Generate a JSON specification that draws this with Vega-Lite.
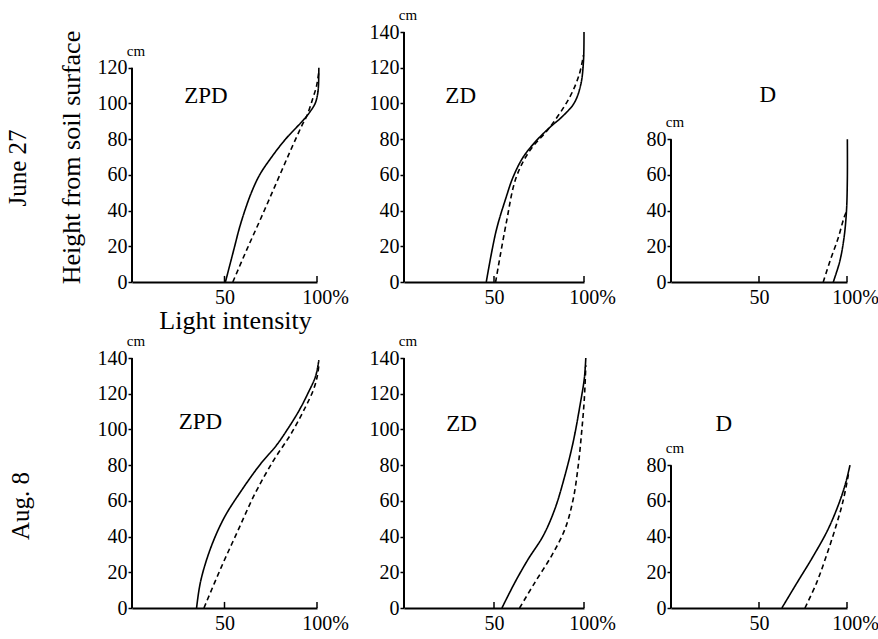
{
  "$schema": "https://vega.github.io/schema/vega-lite/v6.json",
  "background": "white",
  "padding": {"left": 5, "top": 8, "right": 5, "bottom": 5},
  "config": {
    "font": "Liberation Serif",
    "view": {"stroke": null},
    "text": {"font": "Liberation Serif", "color": "black"},
    "axis": {"grid": false, "labelFontSize": 20, "labelColor": "black", "tickColor": "black", "domainColor": "black", "labelFont": "Liberation Serif", "titleFont": "Liberation Serif", "titleFontSize": 26, "titleFontWeight": "normal", "titleColor": "black", "tickWidth": 1.5, "domainWidth": 2, "labelOverlap": false},
    "axisX": {"ticks": false, "labelPadding": 5, "labelFlush": false},
    "axisY": {"domain": false, "tickSize": 4, "labelPadding": 1}
  },
  "datasets": {
    "xticks": [{"tick": 50}, {"tick": 100}],
    "panels": [
      {"panel": "June ZPD", "label": "ZPD", "top": 120},
      {"panel": "June ZD", "label": "ZD", "top": 140},
      {"panel": "June D", "label": "D", "top": 80},
      {"panel": "Aug ZPD", "label": "ZPD", "top": 140},
      {"panel": "Aug ZD", "label": "ZD", "top": 140},
      {"panel": "Aug D", "label": "D", "top": 80}
    ],
    "curves": [
      {"panel": "June ZPD", "series": "solid", "light": 50.5, "height": 0},
      {"panel": "June ZPD", "series": "solid", "light": 53, "height": 10},
      {"panel": "June ZPD", "series": "solid", "light": 55.5, "height": 20},
      {"panel": "June ZPD", "series": "solid", "light": 58, "height": 30},
      {"panel": "June ZPD", "series": "solid", "light": 61, "height": 40},
      {"panel": "June ZPD", "series": "solid", "light": 64.5, "height": 50},
      {"panel": "June ZPD", "series": "solid", "light": 69, "height": 60},
      {"panel": "June ZPD", "series": "solid", "light": 75.5, "height": 70},
      {"panel": "June ZPD", "series": "solid", "light": 83, "height": 80},
      {"panel": "June ZPD", "series": "solid", "light": 92, "height": 90},
      {"panel": "June ZPD", "series": "solid", "light": 96, "height": 95},
      {"panel": "June ZPD", "series": "solid", "light": 99, "height": 100},
      {"panel": "June ZPD", "series": "solid", "light": 100.3, "height": 105},
      {"panel": "June ZPD", "series": "solid", "light": 100.8, "height": 110},
      {"panel": "June ZPD", "series": "solid", "light": 101, "height": 120},
      {"panel": "June ZPD", "series": "dashed", "light": 54.5, "height": 0},
      {"panel": "June ZPD", "series": "dashed", "light": 62, "height": 18},
      {"panel": "June ZPD", "series": "dashed", "light": 69.8, "height": 36},
      {"panel": "June ZPD", "series": "dashed", "light": 77.4, "height": 54},
      {"panel": "June ZPD", "series": "dashed", "light": 85, "height": 72},
      {"panel": "June ZPD", "series": "dashed", "light": 92, "height": 88},
      {"panel": "June ZPD", "series": "dashed", "light": 94.5, "height": 93},
      {"panel": "June ZPD", "series": "dashed", "light": 97.5, "height": 102},
      {"panel": "June ZPD", "series": "dashed", "light": 99.8, "height": 110},
      {"panel": "June ZPD", "series": "dashed", "light": 101, "height": 118},
      {"panel": "June ZD", "series": "solid", "light": 45.7, "height": 0},
      {"panel": "June ZD", "series": "solid", "light": 51.2, "height": 28.7},
      {"panel": "June ZD", "series": "solid", "light": 56.7, "height": 47.3},
      {"panel": "June ZD", "series": "solid", "light": 60.5, "height": 58.5},
      {"panel": "June ZD", "series": "solid", "light": 66, "height": 69.6},
      {"panel": "June ZD", "series": "solid", "light": 73.3, "height": 78.9},
      {"panel": "June ZD", "series": "solid", "light": 80.8, "height": 86.4},
      {"panel": "June ZD", "series": "solid", "light": 88.1, "height": 92.8},
      {"panel": "June ZD", "series": "solid", "light": 94.6, "height": 100.3},
      {"panel": "June ZD", "series": "solid", "light": 98.2, "height": 110.5},
      {"panel": "June ZD", "series": "solid", "light": 99.7, "height": 123.5},
      {"panel": "June ZD", "series": "solid", "light": 100, "height": 140},
      {"panel": "June ZD", "series": "dashed", "light": 50.9, "height": 0},
      {"panel": "June ZD", "series": "dashed", "light": 56.7, "height": 32.5},
      {"panel": "June ZD", "series": "dashed", "light": 62.3, "height": 58.5},
      {"panel": "June ZD", "series": "dashed", "light": 69.7, "height": 73.3},
      {"panel": "June ZD", "series": "dashed", "light": 80.8, "height": 86.4},
      {"panel": "June ZD", "series": "dashed", "light": 91.8, "height": 103},
      {"panel": "June ZD", "series": "dashed", "light": 97.3, "height": 116},
      {"panel": "June ZD", "series": "dashed", "light": 99.7, "height": 127},
      {"panel": "June D", "series": "solid", "light": 92.2, "height": 0},
      {"panel": "June D", "series": "solid", "light": 95.9, "height": 11.6},
      {"panel": "June D", "series": "solid", "light": 98.3, "height": 24.7},
      {"panel": "June D", "series": "solid", "light": 99.7, "height": 39.7},
      {"panel": "June D", "series": "solid", "light": 100.2, "height": 58},
      {"panel": "June D", "series": "solid", "light": 100.2, "height": 80},
      {"panel": "June D", "series": "dashed", "light": 86.5, "height": 0},
      {"panel": "June D", "series": "dashed", "light": 90.3, "height": 11.6},
      {"panel": "June D", "series": "dashed", "light": 95, "height": 24.7},
      {"panel": "June D", "series": "dashed", "light": 98.3, "height": 36},
      {"panel": "June D", "series": "dashed", "light": 99.5, "height": 39},
      {"panel": "Aug ZPD", "series": "solid", "light": 34.9, "height": 0},
      {"panel": "Aug ZPD", "series": "solid", "light": 37.1, "height": 15},
      {"panel": "Aug ZPD", "series": "solid", "light": 42.6, "height": 33.8},
      {"panel": "Aug ZPD", "series": "solid", "light": 49.9, "height": 50.7},
      {"panel": "Aug ZPD", "series": "solid", "light": 59.1, "height": 65.7},
      {"panel": "Aug ZPD", "series": "solid", "light": 69.5, "height": 80.7},
      {"panel": "Aug ZPD", "series": "solid", "light": 78, "height": 91},
      {"panel": "Aug ZPD", "series": "solid", "light": 84, "height": 100},
      {"panel": "Aug ZPD", "series": "solid", "light": 90, "height": 110},
      {"panel": "Aug ZPD", "series": "solid", "light": 95, "height": 120},
      {"panel": "Aug ZPD", "series": "solid", "light": 99.3, "height": 130},
      {"panel": "Aug ZPD", "series": "solid", "light": 101, "height": 138.8},
      {"panel": "Aug ZPD", "series": "dashed", "light": 38.9, "height": 0},
      {"panel": "Aug ZPD", "series": "dashed", "light": 48.1, "height": 22.5},
      {"panel": "Aug ZPD", "series": "dashed", "light": 57.2, "height": 43.2},
      {"panel": "Aug ZPD", "series": "dashed", "light": 66.4, "height": 63.9},
      {"panel": "Aug ZPD", "series": "dashed", "light": 76.5, "height": 82.6},
      {"panel": "Aug ZPD", "series": "dashed", "light": 86, "height": 97.6},
      {"panel": "Aug ZPD", "series": "dashed", "light": 93.5, "height": 112},
      {"panel": "Aug ZPD", "series": "dashed", "light": 98, "height": 122},
      {"panel": "Aug ZPD", "series": "dashed", "light": 100.2, "height": 130},
      {"panel": "Aug ZPD", "series": "dashed", "light": 101, "height": 136},
      {"panel": "Aug ZD", "series": "solid", "light": 54.4, "height": 0},
      {"panel": "Aug ZD", "series": "solid", "light": 61.5, "height": 14.1},
      {"panel": "Aug ZD", "series": "solid", "light": 68.9, "height": 27.2},
      {"panel": "Aug ZD", "series": "solid", "light": 77.3, "height": 40.4},
      {"panel": "Aug ZD", "series": "solid", "light": 83.8, "height": 55.4},
      {"panel": "Aug ZD", "series": "solid", "light": 89.4, "height": 74.2},
      {"panel": "Aug ZD", "series": "solid", "light": 94, "height": 93},
      {"panel": "Aug ZD", "series": "solid", "light": 97.8, "height": 113.6},
      {"panel": "Aug ZD", "series": "solid", "light": 100.2, "height": 128.7},
      {"panel": "Aug ZD", "series": "solid", "light": 101, "height": 140},
      {"panel": "Aug ZD", "series": "dashed", "light": 64.2, "height": 0},
      {"panel": "Aug ZD", "series": "dashed", "light": 72.6, "height": 14.1},
      {"panel": "Aug ZD", "series": "dashed", "light": 81.9, "height": 29.1},
      {"panel": "Aug ZD", "series": "dashed", "light": 89.4, "height": 44.1},
      {"panel": "Aug ZD", "series": "dashed", "light": 94, "height": 61},
      {"panel": "Aug ZD", "series": "dashed", "light": 96.8, "height": 79.8},
      {"panel": "Aug ZD", "series": "dashed", "light": 98.7, "height": 98.6},
      {"panel": "Aug ZD", "series": "dashed", "light": 100.2, "height": 117.4},
      {"panel": "Aug ZD", "series": "dashed", "light": 101, "height": 136},
      {"panel": "Aug D", "series": "solid", "light": 63, "height": 0},
      {"panel": "Aug D", "series": "solid", "light": 71.4, "height": 13.8},
      {"panel": "Aug D", "series": "solid", "light": 80.8, "height": 29},
      {"panel": "Aug D", "series": "solid", "light": 89.2, "height": 44},
      {"panel": "Aug D", "series": "solid", "light": 95.7, "height": 59.3},
      {"panel": "Aug D", "series": "solid", "light": 99.4, "height": 70.6},
      {"panel": "Aug D", "series": "solid", "light": 101.7, "height": 80},
      {"panel": "Aug D", "series": "dashed", "light": 76.1, "height": 0},
      {"panel": "Aug D", "series": "dashed", "light": 82.6, "height": 13.8},
      {"panel": "Aug D", "series": "dashed", "light": 88.2, "height": 29},
      {"panel": "Aug D", "series": "dashed", "light": 93.8, "height": 46},
      {"panel": "Aug D", "series": "dashed", "light": 97.6, "height": 59.3},
      {"panel": "Aug D", "series": "dashed", "light": 100.4, "height": 72.6},
      {"panel": "Aug D", "series": "dashed", "light": 101, "height": 76}
    ]
  },
  "concat": [
    {
      "width": 185, "height": 250,
      "title": {"text": "June 27", "orient": "left", "frame": "group", "anchor": "middle", "offset": 27, "dx": -11, "fontSize": 25, "fontWeight": "normal", "font": "Liberation Serif", "color": "black"},
      "resolve": {"axis": {"x": "independent", "y": "independent"}},
      "layer": [
        {"data": {"name": "curves"}, "transform": [{"filter": "datum.panel == 'June ZPD'"}],
         "mark": {"type": "line", "interpolate": "catmull-rom", "color": "black", "strokeWidth": 1.6},
         "encoding": {
           "x": {"field": "light", "type": "quantitative", "scale": {"domain": [0, 100]}, "axis": {"values": [50, 100], "title": "Light intensity", "titlePadding": 0, "titleX": 103, "titleAlign": "center", "labelOverlap": false, "labelExpr": "datum.value == 100 ? '100%' : datum.label", "labelOffset": {"condition": {"test": "datum.value == 100", "value": 8}, "value": 0}}},
           "y": {"field": "height", "type": "quantitative", "scale": {"domain": [0, 140]}, "axis": {"values": [0, 20, 40, 60, 80, 100, 120], "title": "Height from soil surface", "titlePadding": 13, "labelOverlap": false}},
           "order": {"field": "height", "type": "quantitative"},
           "strokeDash": {"field": "series", "type": "nominal", "scale": {"domain": ["solid", "dashed"], "range": [[1, 0], [5, 3.5]]}, "legend": null}
         }},
        {"data": {"name": "xticks"}, "mark": {"type": "rule", "color": "black", "strokeWidth": 1.5},
         "encoding": {"x": {"field": "tick", "type": "quantitative", "axis": null}, "y": {"datum": 0, "axis": null}, "y2": {"datum": 3.4}}},
        {"data": {"name": "panels"}, "transform": [{"filter": "datum.panel == 'June ZPD'"}],
         "mark": {"type": "rule", "color": "black", "strokeWidth": 2},
         "encoding": {"x": {"datum": 0, "axis": null}, "y": {"field": "top", "type": "quantitative", "axis": null}, "y2": {"datum": 0}}},
        {"data": {"name": "panels"}, "transform": [{"filter": "datum.panel == 'June ZPD'"}],
         "mark": {"type": "text", "font": "Liberation Serif", "fontSize": 15, "dx": 4, "dy": -17, "color": "black"},
         "encoding": {"x": {"datum": 0, "axis": null}, "y": {"field": "top", "type": "quantitative", "axis": null}, "text": {"value": "cm"}}},
        {"data": {"name": "panels"}, "transform": [{"filter": "datum.panel == 'June ZPD'"}],
         "mark": {"type": "text", "font": "Liberation Serif", "fontSize": 23, "color": "black"},
         "encoding": {"x": {"datum": 40, "axis": null}, "y": {"datum": 104, "axis": null}, "text": {"field": "label"}}}
      ]
    },
    {
      "width": 180, "height": 250,
      "resolve": {"axis": {"x": "independent", "y": "independent"}},
      "layer": [
        {"data": {"name": "curves"}, "transform": [{"filter": "datum.panel == 'June ZD'"}],
         "mark": {"type": "line", "interpolate": "catmull-rom", "color": "black", "strokeWidth": 1.6},
         "encoding": {
           "x": {"field": "light", "type": "quantitative", "scale": {"domain": [0, 100]}, "axis": {"values": [50, 100], "title": null, "labelOverlap": false, "labelExpr": "datum.value == 100 ? '100%' : datum.label", "labelOffset": {"condition": {"test": "datum.value == 100", "value": 8}, "value": 0}}},
           "y": {"field": "height", "type": "quantitative", "scale": {"domain": [0, 140]}, "axis": {"values": [0, 20, 40, 60, 80, 100, 120, 140], "title": null, "labelOverlap": false}},
           "order": {"field": "height", "type": "quantitative"},
           "strokeDash": {"field": "series", "type": "nominal", "scale": {"domain": ["solid", "dashed"], "range": [[1, 0], [5, 3.5]]}, "legend": null}
         }},
        {"data": {"name": "xticks"}, "mark": {"type": "rule", "color": "black", "strokeWidth": 1.5},
         "encoding": {"x": {"field": "tick", "type": "quantitative", "axis": null}, "y": {"datum": 0, "axis": null}, "y2": {"datum": 3.4}}},
        {"data": {"name": "panels"}, "transform": [{"filter": "datum.panel == 'June ZD'"}],
         "mark": {"type": "rule", "color": "black", "strokeWidth": 2},
         "encoding": {"x": {"datum": 0, "axis": null}, "y": {"field": "top", "type": "quantitative", "axis": null}, "y2": {"datum": 0}}},
        {"data": {"name": "panels"}, "transform": [{"filter": "datum.panel == 'June ZD'"}],
         "mark": {"type": "text", "font": "Liberation Serif", "fontSize": 15, "dx": 4, "dy": -17, "color": "black"},
         "encoding": {"x": {"datum": 0, "axis": null}, "y": {"field": "top", "type": "quantitative", "axis": null}, "text": {"value": "cm"}}},
        {"data": {"name": "panels"}, "transform": [{"filter": "datum.panel == 'June ZD'"}],
         "mark": {"type": "text", "font": "Liberation Serif", "fontSize": 23, "color": "black"},
         "encoding": {"x": {"datum": 31.5, "axis": null}, "y": {"datum": 104, "axis": null}, "text": {"field": "label"}}}
      ]
    },
    {
      "width": 176, "height": 250,
      "resolve": {"axis": {"x": "independent", "y": "independent"}},
      "layer": [
        {"data": {"name": "curves"}, "transform": [{"filter": "datum.panel == 'June D'"}],
         "mark": {"type": "line", "interpolate": "catmull-rom", "color": "black", "strokeWidth": 1.6},
         "encoding": {
           "x": {"field": "light", "type": "quantitative", "scale": {"domain": [0, 100]}, "axis": {"values": [50, 100], "title": null, "labelOverlap": false, "labelExpr": "datum.value == 100 ? '100%' : datum.label", "labelOffset": {"condition": {"test": "datum.value == 100", "value": 8}, "value": 0}}},
           "y": {"field": "height", "type": "quantitative", "scale": {"domain": [0, 140]}, "axis": {"values": [0, 20, 40, 60, 80], "title": null, "labelOverlap": false}},
           "order": {"field": "height", "type": "quantitative"},
           "strokeDash": {"field": "series", "type": "nominal", "scale": {"domain": ["solid", "dashed"], "range": [[1, 0], [5, 3.5]]}, "legend": null}
         }},
        {"data": {"name": "xticks"}, "mark": {"type": "rule", "color": "black", "strokeWidth": 1.5},
         "encoding": {"x": {"field": "tick", "type": "quantitative", "axis": null}, "y": {"datum": 0, "axis": null}, "y2": {"datum": 3.4}}},
        {"data": {"name": "panels"}, "transform": [{"filter": "datum.panel == 'June D'"}],
         "mark": {"type": "rule", "color": "black", "strokeWidth": 2},
         "encoding": {"x": {"datum": 0, "axis": null}, "y": {"field": "top", "type": "quantitative", "axis": null}, "y2": {"datum": 0}}},
        {"data": {"name": "panels"}, "transform": [{"filter": "datum.panel == 'June D'"}],
         "mark": {"type": "text", "font": "Liberation Serif", "fontSize": 15, "dx": 4, "dy": -17, "color": "black"},
         "encoding": {"x": {"datum": 0, "axis": null}, "y": {"field": "top", "type": "quantitative", "axis": null}, "text": {"value": "cm"}}},
        {"data": {"name": "panels"}, "transform": [{"filter": "datum.panel == 'June D'"}],
         "mark": {"type": "text", "font": "Liberation Serif", "fontSize": 23, "color": "black"},
         "encoding": {"x": {"datum": 55, "axis": null}, "y": {"datum": 105, "axis": null}, "text": {"field": "label"}}}
      ]
    },
    {
      "width": 185, "height": 250,
      "title": {"text": "Aug. 8", "orient": "left", "frame": "group", "anchor": "middle", "offset": 63, "dx": -23, "fontSize": 25, "fontWeight": "normal", "font": "Liberation Serif", "color": "black"},
      "resolve": {"axis": {"x": "independent", "y": "independent"}},
      "layer": [
        {"data": {"name": "curves"}, "transform": [{"filter": "datum.panel == 'Aug ZPD'"}],
         "mark": {"type": "line", "interpolate": "catmull-rom", "color": "black", "strokeWidth": 1.6},
         "encoding": {
           "x": {"field": "light", "type": "quantitative", "scale": {"domain": [0, 100]}, "axis": {"values": [50, 100], "title": null, "labelOverlap": false, "labelExpr": "datum.value == 100 ? '100%' : datum.label", "labelOffset": {"condition": {"test": "datum.value == 100", "value": 8}, "value": 0}}},
           "y": {"field": "height", "type": "quantitative", "scale": {"domain": [0, 140]}, "axis": {"values": [0, 20, 40, 60, 80, 100, 120, 140], "title": null, "labelOverlap": false}},
           "order": {"field": "height", "type": "quantitative"},
           "strokeDash": {"field": "series", "type": "nominal", "scale": {"domain": ["solid", "dashed"], "range": [[1, 0], [5, 3.5]]}, "legend": null}
         }},
        {"data": {"name": "xticks"}, "mark": {"type": "rule", "color": "black", "strokeWidth": 1.5},
         "encoding": {"x": {"field": "tick", "type": "quantitative", "axis": null}, "y": {"datum": 0, "axis": null}, "y2": {"datum": 3.4}}},
        {"data": {"name": "panels"}, "transform": [{"filter": "datum.panel == 'Aug ZPD'"}],
         "mark": {"type": "rule", "color": "black", "strokeWidth": 2},
         "encoding": {"x": {"datum": 0, "axis": null}, "y": {"field": "top", "type": "quantitative", "axis": null}, "y2": {"datum": 0}}},
        {"data": {"name": "panels"}, "transform": [{"filter": "datum.panel == 'Aug ZPD'"}],
         "mark": {"type": "text", "font": "Liberation Serif", "fontSize": 15, "dx": 4, "dy": -17, "color": "black"},
         "encoding": {"x": {"datum": 0, "axis": null}, "y": {"field": "top", "type": "quantitative", "axis": null}, "text": {"value": "cm"}}},
        {"data": {"name": "panels"}, "transform": [{"filter": "datum.panel == 'Aug ZPD'"}],
         "mark": {"type": "text", "font": "Liberation Serif", "fontSize": 23, "color": "black"},
         "encoding": {"x": {"datum": 37, "axis": null}, "y": {"datum": 104, "axis": null}, "text": {"field": "label"}}}
      ]
    },
    {
      "width": 180, "height": 250,
      "resolve": {"axis": {"x": "independent", "y": "independent"}},
      "layer": [
        {"data": {"name": "curves"}, "transform": [{"filter": "datum.panel == 'Aug ZD'"}],
         "mark": {"type": "line", "interpolate": "catmull-rom", "color": "black", "strokeWidth": 1.6},
         "encoding": {
           "x": {"field": "light", "type": "quantitative", "scale": {"domain": [0, 100]}, "axis": {"values": [50, 100], "title": null, "labelOverlap": false, "labelExpr": "datum.value == 100 ? '100%' : datum.label", "labelOffset": {"condition": {"test": "datum.value == 100", "value": 8}, "value": 0}}},
           "y": {"field": "height", "type": "quantitative", "scale": {"domain": [0, 140]}, "axis": {"values": [0, 20, 40, 60, 80, 100, 120, 140], "title": null, "labelOverlap": false}},
           "order": {"field": "height", "type": "quantitative"},
           "strokeDash": {"field": "series", "type": "nominal", "scale": {"domain": ["solid", "dashed"], "range": [[1, 0], [5, 3.5]]}, "legend": null}
         }},
        {"data": {"name": "xticks"}, "mark": {"type": "rule", "color": "black", "strokeWidth": 1.5},
         "encoding": {"x": {"field": "tick", "type": "quantitative", "axis": null}, "y": {"datum": 0, "axis": null}, "y2": {"datum": 3.4}}},
        {"data": {"name": "panels"}, "transform": [{"filter": "datum.panel == 'Aug ZD'"}],
         "mark": {"type": "rule", "color": "black", "strokeWidth": 2},
         "encoding": {"x": {"datum": 0, "axis": null}, "y": {"field": "top", "type": "quantitative", "axis": null}, "y2": {"datum": 0}}},
        {"data": {"name": "panels"}, "transform": [{"filter": "datum.panel == 'Aug ZD'"}],
         "mark": {"type": "text", "font": "Liberation Serif", "fontSize": 15, "dx": 4, "dy": -17, "color": "black"},
         "encoding": {"x": {"datum": 0, "axis": null}, "y": {"field": "top", "type": "quantitative", "axis": null}, "text": {"value": "cm"}}},
        {"data": {"name": "panels"}, "transform": [{"filter": "datum.panel == 'Aug ZD'"}],
         "mark": {"type": "text", "font": "Liberation Serif", "fontSize": 23, "color": "black"},
         "encoding": {"x": {"datum": 32, "axis": null}, "y": {"datum": 103, "axis": null}, "text": {"field": "label"}}}
      ]
    },
    {
      "width": 176, "height": 250,
      "resolve": {"axis": {"x": "independent", "y": "independent"}},
      "layer": [
        {"data": {"name": "curves"}, "transform": [{"filter": "datum.panel == 'Aug D'"}],
         "mark": {"type": "line", "interpolate": "catmull-rom", "color": "black", "strokeWidth": 1.6},
         "encoding": {
           "x": {"field": "light", "type": "quantitative", "scale": {"domain": [0, 100]}, "axis": {"values": [50, 100], "title": null, "labelOverlap": false, "labelExpr": "datum.value == 100 ? '100%' : datum.label", "labelOffset": {"condition": {"test": "datum.value == 100", "value": 8}, "value": 0}}},
           "y": {"field": "height", "type": "quantitative", "scale": {"domain": [0, 140]}, "axis": {"values": [0, 20, 40, 60, 80], "title": null, "labelOverlap": false}},
           "order": {"field": "height", "type": "quantitative"},
           "strokeDash": {"field": "series", "type": "nominal", "scale": {"domain": ["solid", "dashed"], "range": [[1, 0], [5, 3.5]]}, "legend": null}
         }},
        {"data": {"name": "xticks"}, "mark": {"type": "rule", "color": "black", "strokeWidth": 1.5},
         "encoding": {"x": {"field": "tick", "type": "quantitative", "axis": null}, "y": {"datum": 0, "axis": null}, "y2": {"datum": 3.4}}},
        {"data": {"name": "panels"}, "transform": [{"filter": "datum.panel == 'Aug D'"}],
         "mark": {"type": "rule", "color": "black", "strokeWidth": 2},
         "encoding": {"x": {"datum": 0, "axis": null}, "y": {"field": "top", "type": "quantitative", "axis": null}, "y2": {"datum": 0}}},
        {"data": {"name": "panels"}, "transform": [{"filter": "datum.panel == 'Aug D'"}],
         "mark": {"type": "text", "font": "Liberation Serif", "fontSize": 15, "dx": 4, "dy": -17, "color": "black"},
         "encoding": {"x": {"datum": 0, "axis": null}, "y": {"field": "top", "type": "quantitative", "axis": null}, "text": {"value": "cm"}}},
        {"data": {"name": "panels"}, "transform": [{"filter": "datum.panel == 'Aug D'"}],
         "mark": {"type": "text", "font": "Liberation Serif", "fontSize": 23, "color": "black"},
         "encoding": {"x": {"datum": 30, "axis": null}, "y": {"datum": 103, "axis": null}, "text": {"field": "label"}}}
      ]
    }
  ],
  "columns": 3,
  "spacing": {"row": 76, "column": 87},
  "bounds": "flush",
  "align": "each"
}
